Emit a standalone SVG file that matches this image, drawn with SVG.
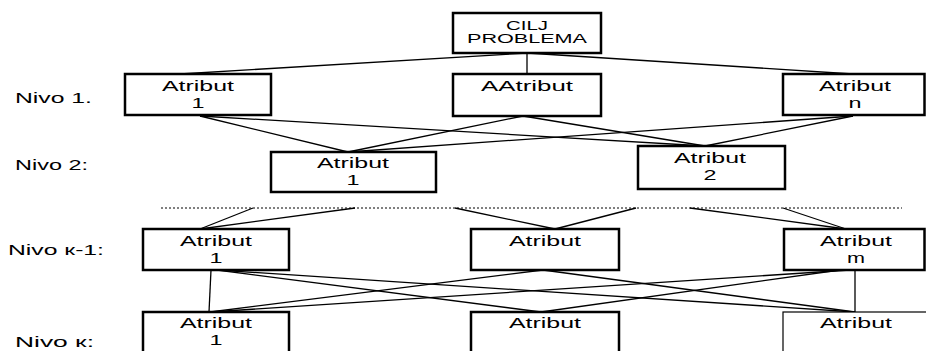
<svg xmlns="http://www.w3.org/2000/svg" width="926" height="351" viewBox="0 0 926 351">
<style>
.box{fill:#fff;stroke:#000;stroke-width:2.5}
.thin{fill:#fff;stroke:#000;stroke-width:1.2}
.con line{stroke:#000;stroke-width:1.3}
text{font-family:"Liberation Sans",Arial,sans-serif;font-size:15px;fill:#000}
.c{text-anchor:middle}
.s{font-size:12px}
</style>
<rect width="926" height="351" fill="#fff"/>
<g id="levels">
<text x="15" y="103" textLength="77" lengthAdjust="spacingAndGlyphs">Nivo 1.</text>
<text x="15" y="170" textLength="73" lengthAdjust="spacingAndGlyphs">Nivo 2:</text>
<text x="8" y="255" textLength="96" lengthAdjust="spacingAndGlyphs">Nivo к-1:</text>
<text x="15" y="347" textLength="79" lengthAdjust="spacingAndGlyphs">Nivo к:</text>
</g>
<g class="con" id="connectors">
<line x1="527" y1="53" x2="180" y2="74"/>
<line x1="527" y1="53" x2="527" y2="74"/>
<line x1="527" y1="53" x2="853" y2="74"/>
<line x1="200" y1="116" x2="348" y2="152"/>
<line x1="200" y1="116" x2="705" y2="146"/>
<line x1="523" y1="116" x2="348" y2="152"/>
<line x1="523" y1="116" x2="705" y2="146"/>
<line x1="853" y1="116" x2="348" y2="152"/>
<line x1="853" y1="116" x2="705" y2="146"/>
<line x1="161" y1="208" x2="902" y2="208" stroke-dasharray="2 2" style="stroke-width:1"/>
<line x1="253" y1="208" x2="200" y2="229"/>
<line x1="355" y1="208" x2="200" y2="229"/>
<line x1="455" y1="208" x2="555" y2="229"/>
<line x1="636" y1="208" x2="555" y2="229"/>
<line x1="690" y1="208" x2="846" y2="229"/>
<line x1="783" y1="208" x2="846" y2="229"/>
<line x1="211" y1="270" x2="209" y2="312"/>
<line x1="217" y1="270" x2="541" y2="312"/>
<line x1="217" y1="270" x2="855" y2="312"/>
<line x1="543" y1="270" x2="210" y2="312"/>
<line x1="543" y1="270" x2="855" y2="312"/>
<line x1="850" y1="270" x2="210" y2="312"/>
<line x1="840" y1="270" x2="541" y2="312"/>
<line x1="855" y1="270" x2="855" y2="312"/>
</g>
<g id="cilj">
<rect class="box" x="453" y="13" width="148" height="40"/>
<text class="c s" x="527" y="30" textLength="42" lengthAdjust="spacingAndGlyphs">CILJ</text>
<text class="c s" x="527" y="43" textLength="120" lengthAdjust="spacingAndGlyphs">PROBLEMA</text>
</g>
<g id="n1a1">
<rect class="box" x="125" y="74" width="146" height="41"/>
<text class="c" x="198" y="91" textLength="72" lengthAdjust="spacingAndGlyphs">Atribut</text>
<text class="c" x="198" y="108" textLength="13" lengthAdjust="spacingAndGlyphs">1</text>
</g>
<g id="n1a2">
<rect class="box" x="453" y="74" width="148" height="42"/>
<text class="c" x="527" y="91" textLength="92" lengthAdjust="spacingAndGlyphs">AAtribut</text>
</g>
<g id="n1an">
<rect class="box" x="783" y="74" width="141.5" height="41"/>
<text class="c" x="855" y="91" textLength="72" lengthAdjust="spacingAndGlyphs">Atribut</text>
<text class="c" x="855" y="108" textLength="13" lengthAdjust="spacingAndGlyphs">n</text>
</g>
<g id="n2a1">
<rect class="box" x="271" y="152" width="165" height="40"/>
<text class="c" x="353" y="168" textLength="72" lengthAdjust="spacingAndGlyphs">Atribut</text>
<text class="c" x="353" y="185" textLength="13" lengthAdjust="spacingAndGlyphs">1</text>
</g>
<g id="n2a2">
<rect class="box" x="638" y="146" width="147" height="43"/>
<text class="c" x="710" y="163" textLength="72" lengthAdjust="spacingAndGlyphs">Atribut</text>
<text class="c" x="710" y="180" textLength="13" lengthAdjust="spacingAndGlyphs">2</text>
</g>
<g id="k1a1">
<rect class="box" x="143" y="229" width="146" height="41"/>
<text class="c" x="216" y="246" textLength="72" lengthAdjust="spacingAndGlyphs">Atribut</text>
<text class="c" x="216" y="263" textLength="13" lengthAdjust="spacingAndGlyphs">1</text>
</g>
<g id="k1a2">
<rect class="box" x="471" y="229" width="148" height="41"/>
<text class="c" x="545" y="246" textLength="72" lengthAdjust="spacingAndGlyphs">Atribut</text>
</g>
<g id="k1am">
<rect class="box" x="784" y="229" width="140.5" height="41"/>
<text class="c" x="856" y="246" textLength="72" lengthAdjust="spacingAndGlyphs">Atribut</text>
<text class="c" x="856" y="263" textLength="18" lengthAdjust="spacingAndGlyphs">m</text>
</g>
<g id="ka1">
<rect class="box" x="143" y="312" width="146" height="60"/>
<text class="c" x="216" y="328" textLength="72" lengthAdjust="spacingAndGlyphs">Atribut</text>
<text class="c" x="216" y="345" textLength="13" lengthAdjust="spacingAndGlyphs">1</text>
</g>
<g id="ka2">
<rect class="box" x="471" y="312" width="148" height="60"/>
<text class="c" x="545" y="328" textLength="72" lengthAdjust="spacingAndGlyphs">Atribut</text>
</g>
<g id="ka3">
<rect class="thin" x="783" y="312" width="160" height="60"/>
<text class="c" x="856" y="328" textLength="72" lengthAdjust="spacingAndGlyphs">Atribut</text>
</g>
</svg>
